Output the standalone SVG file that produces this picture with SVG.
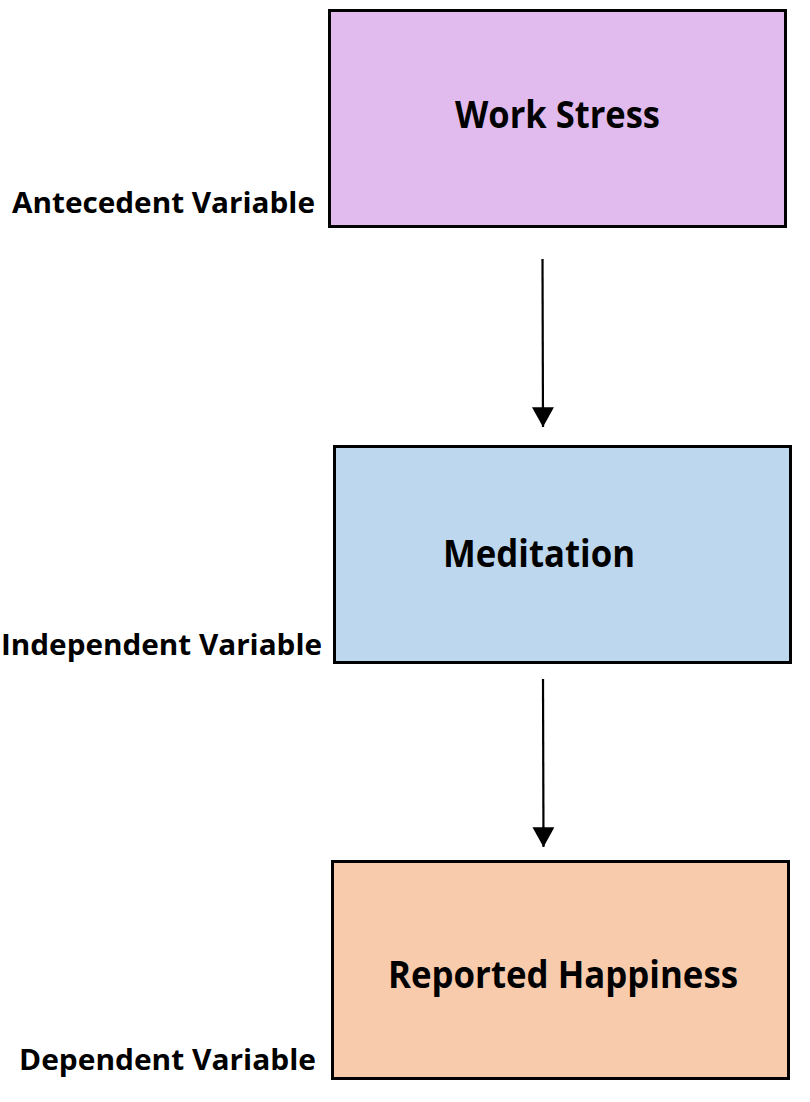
<svg xmlns="http://www.w3.org/2000/svg" width="810" height="1102" viewBox="0 0 810 1102">
<style>
.box{stroke:#000;stroke-width:3}
.t{font-family:"Open Sans","Liberation Sans",sans-serif;font-weight:bold;fill:#000}
.n{font-size:38px}
.l{font-size:28px}
.c{stroke:#000;stroke-width:2.2;fill:none}
</style>
<defs>
<marker id="ah" markerWidth="9" markerHeight="10" refX="9" refY="5" orient="auto" markerUnits="strokeWidth"><path d="M0,0 L9,5 L0,10 Z" fill="#000"/></marker>
</defs>
<rect width="810" height="1102" fill="#fff"/>
<g id="work-stress">
<rect class="box" x="329.5" y="10.5" width="456" height="216" fill="#E1BBEE"/>
<text class="t n" x="455" y="128" textLength="205" lengthAdjust="spacingAndGlyphs">Work Stress</text>
</g>
<g id="meditation">
<rect class="box" x="334.5" y="446.5" width="456" height="216" fill="#BDD7EE"/>
<text class="t n" x="443" y="567" textLength="192" lengthAdjust="spacingAndGlyphs">Meditation</text>
</g>
<g id="reported-happiness">
<rect class="box" x="332.5" y="861.5" width="456" height="217" fill="#F8CBAD"/>
<text class="t n" x="388" y="988" textLength="350" lengthAdjust="spacingAndGlyphs">Reported Happiness</text>
</g>
<g id="labels">
<text class="t l" x="12" y="213" textLength="303" lengthAdjust="spacingAndGlyphs">Antecedent Variable</text>
<text class="t l" x="1" y="655" textLength="321" lengthAdjust="spacingAndGlyphs">Independent Variable</text>
<text class="t l" x="19" y="1070" textLength="297" lengthAdjust="spacingAndGlyphs">Dependent Variable</text>
</g>
<g id="connectors">
<line class="c" x1="542.5" y1="259" x2="543" y2="427" marker-end="url(#ah)"/>
<line class="c" x1="543" y1="679" x2="543.5" y2="847" marker-end="url(#ah)"/>
</g>
</svg>
